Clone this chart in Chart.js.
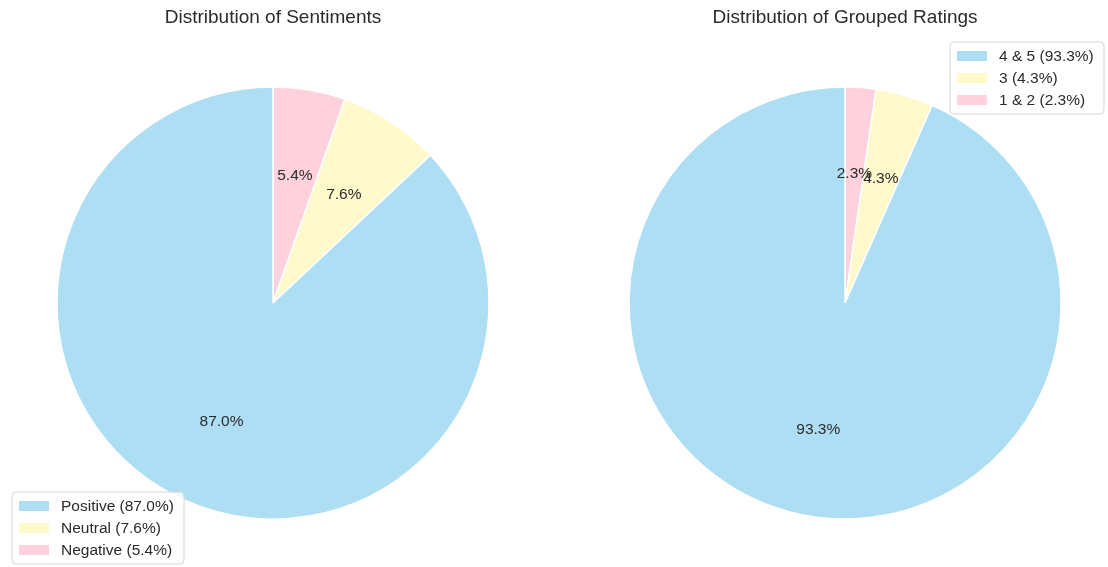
<!DOCTYPE html>
<html>
<head>
<meta charset="utf-8">
<script src="https://cdn.jsdelivr.net/npm/chart.js@4/dist/chart.umd.min.js"></script>
<style>
  html, body { margin: 0; padding: 0; background: #fff; }
  #wrap { position: relative; width: 1108px; height: 567px; overflow: hidden; }
  canvas { position: absolute; top: 0; }
</style>
</head>
<body>
<div id="wrap">
  <canvas id="sentiments" width="554" height="567" style="left:0"></canvas>
  <canvas id="ratings" width="554" height="567" style="left:554px"></canvas>
</div>
<script>
// Sentiment shares (percent)
const sentimentLabels = ['Positive', 'Neutral', 'Negative'];
const sentimentValues = [87.0, 7.6, 5.4];

// Grouped rating shares (percent)
const ratingLabels = ['4 & 5', '3', '1 & 2'];
const ratingValues = [93.3, 4.3, 2.3];

const sliceColors = ['#AEDEF4', '#FFF9CC', '#FFD1DC'];
const textColor = '#2b2b2b';
const fontFamily = '"Liberation Sans", Arial, Helvetica, sans-serif';

// values are already percentages
function pct(v) { return v.toFixed(1) + '%'; }

// Titles, in-slice percentages and a framed legend
const decorPlugin = {
  id: 'decor',
  afterDraw(chart, args, opts) {
    const ctx = chart.ctx;
    const ds = chart.data.datasets[0];
    ctx.save();
    // title
    ctx.fillStyle = textColor;
    ctx.font = '19px ' + fontFamily;
    ctx.textAlign = 'center';
    ctx.textBaseline = 'middle';
    ctx.fillText(opts.title, opts.titleX, 18);

    // percentages at 0.6 of the radius
    ctx.font = '15.5px ' + fontFamily;
    const meta = chart.getDatasetMeta(0);
    meta.data.forEach((arc, i) => {
      const p = arc.getProps(['x', 'y', 'startAngle', 'endAngle', 'outerRadius'], true);
      const mid = (p.startAngle + p.endAngle) / 2;
      const r = p.outerRadius * 0.6;
      ctx.fillText(pct(ds.data[i]), p.x + Math.cos(mid) * r, p.y + Math.sin(mid) * r);
    });

    // legend (original series order)
    const L = opts.legend;
    ctx.beginPath();
    const rr = 4;
    ctx.moveTo(L.x + rr, L.y);
    ctx.arcTo(L.x + L.w, L.y, L.x + L.w, L.y + L.h, rr);
    ctx.arcTo(L.x + L.w, L.y + L.h, L.x, L.y + L.h, rr);
    ctx.arcTo(L.x, L.y + L.h, L.x, L.y, rr);
    ctx.arcTo(L.x, L.y, L.x + L.w, L.y, rr);
    ctx.closePath();
    ctx.fillStyle = 'rgba(255,255,255,0.8)';
    ctx.fill();
    ctx.strokeStyle = '#d6d6d6';
    ctx.lineWidth = 1;
    ctx.stroke();
    ctx.textAlign = 'left';
    opts.names.forEach((name, i) => {
      const cy = L.y + 14 + i * 22;
      ctx.fillStyle = opts.colors[i];
      ctx.fillRect(L.x + 7, cy - 5, 30, 10);
      ctx.fillStyle = textColor;
      ctx.fillText(name + ' (' + pct(opts.values[i]) + ')', L.x + 49, cy + 1);
    });
    ctx.restore();
  }
};

function makePie(id, labels, values, title, titleX, padding, legendBox) {
  // slices run clockwise from 12 o'clock in reverse series order
  const rLabels = labels.slice().reverse();
  const rValues = values.slice().reverse();
  const rColors = sliceColors.slice(0, values.length).reverse();
  return new Chart(document.getElementById(id), {
    type: 'pie',
    data: {
      labels: rLabels,
      datasets: [{
        data: rValues,
        backgroundColor: rColors,
        borderColor: '#ffffff',
        borderWidth: 1.5,
        hoverOffset: 0
      }]
    },
    options: {
      responsive: false,
      animation: false,
      devicePixelRatio: 1,
      radius: 216,
      layout: { padding: padding },
      plugins: {
        legend: { display: false },
        tooltip: { enabled: false },
        title: { display: false },
        decor: {
          title: title,
          titleX: titleX,
          legend: legendBox,
          names: labels,
          values: values,
          colors: sliceColors
        }
      }
    },
    plugins: [decorPlugin]
  });
}

makePie('sentiments', sentimentLabels, sentimentValues, 'Distribution of Sentiments', 273,
  { left: 0, right: 8, top: 50, bottom: 11 },
  { x: 12, y: 492, w: 172, h: 72 });

makePie('ratings', ratingLabels, ratingValues, 'Distribution of Grouped Ratings', 291,
  { left: 28, right: 0, top: 50, bottom: 11 },
  { x: 396, y: 42, w: 154, h: 72 });
</script>
</body>
</html>
